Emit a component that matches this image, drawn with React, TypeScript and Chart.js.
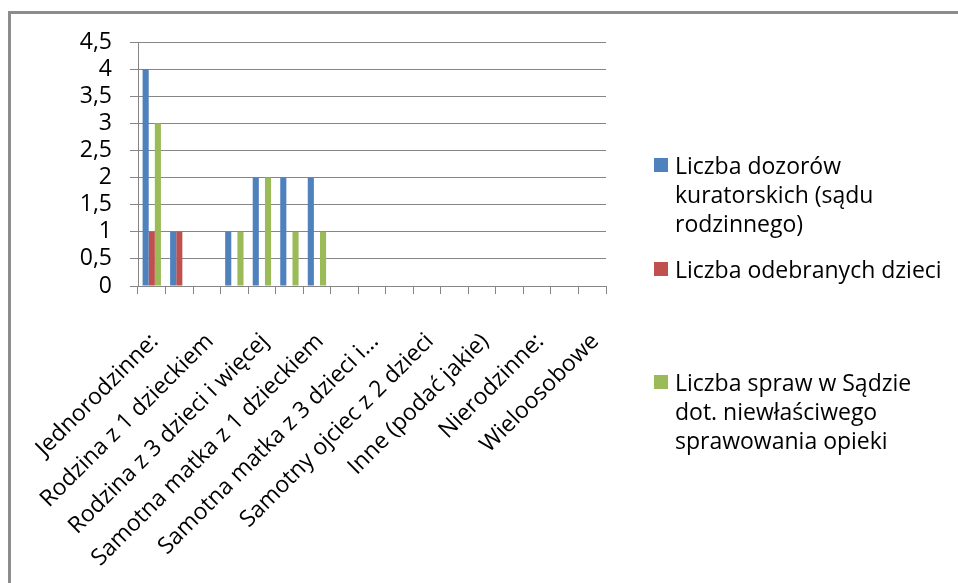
import React, { useEffect, useRef } from 'react';
import { Chart, registerables } from 'chart.js';

Chart.register(...registerables);

const CATEGORIES = [
  'Jednorodzinne:',
  'Małżeństwo bez dzieci',
  'Rodzina z 1 dzieckiem',
  'Rodzina z 2 dzieci',
  'Rodzina z 3 dzieci i więcej',
  'Samotni rodzice:',
  'Samotna matka z 1 dzieckiem',
  'Samotna matka z 2 dzieci',
  'Samotna matka z 3 dzieci i...',
  'Samotny ojciec z 1 dzieckiem',
  'Samotny ojciec z 2 dzieci',
  'Samotny ojciec z 3 dzieci i więcej',
  'Inne (podać jakie)',
  'Wielorodzinne',
  'Nierodzinne:',
  'Jednoosobowe',
  'Wieloosobowe',
];

const DOZORY = [4, 1, 0, 1, 2, 2, 2, 0, 0, 0, 0, 0, 0, 0, 0, 0, 0];
const ODEBRANE = [1, 1, 0, 0, 0, 0, 0, 0, 0, 0, 0, 0, 0, 0, 0, 0, 0];
const SPRAWY = [3, 0, 0, 1, 2, 1, 1, 0, 0, 0, 0, 0, 0, 0, 0, 0, 0];

const SERIES_NAMES = [
  'Liczba dozorów kuratorskich (sądu rodzinnego)',
  'Liczba odebranych dzieci',
  'Liczba spraw w Sądzie dot. niewłaściwego sprawowania opieki',
];
const LEGEND_LINES = [
  ['Liczba dozorów', 'kuratorskich (sądu', 'rodzinnego)'],
  ['Liczba odebranych dzieci'],
  ['Liczba spraw w Sądzie', 'dot. niewłaściwego', 'sprawowania opieki'],
];
const COLORS = ['#4F81BD', '#C0504D', '#9BBB59'];
const Y_MAX = 4.5;
const Y_STEP = 0.5;

const FONT = '"Open Sans", "Noto Sans", sans-serif';
const FONT_SIZE = 23;
const GRID = '#868686';
const LEGEND_TOPS = [151, 255, 368];

export default function App() {
  const ref = useRef<HTMLCanvasElement | null>(null);

  useEffect(() => {
    if (!ref.current) return;
    const chart = new Chart(ref.current, {
      type: 'bar',
      data: {
        labels: CATEGORIES,
        datasets: [DOZORY, ODEBRANE, SPRAWY].map((d, i) => ({
          label: SERIES_NAMES[i],
          data: d,
          backgroundColor: COLORS[i],
          borderWidth: 0,
          barPercentage: 1,
          categoryPercentage: 0.667,
        })),
      },
      options: {
        animation: false,
        responsive: false,
        maintainAspectRatio: false,
        layout: { padding: { left: 0, top: 42, right: 352, bottom: 0 } },
        plugins: { legend: { display: false }, tooltip: { enabled: true } },
        scales: {
          x: {
            grid: { display: true, drawOnChartArea: false, drawTicks: true, tickLength: 8, color: GRID, lineWidth: 1 },
            border: { color: GRID, width: 1 },
            ticks: {
              autoSkip: false,
              minRotation: 45,
              maxRotation: 45,
              padding: 34,
              labelOffset: 3,
              color: '#000',
              font: { family: FONT, size: FONT_SIZE },
              callback: (_v: any, i: number) => (i % 2 === 0 ? CATEGORIES[i] : ''),
            },
            afterFit: (s: any) => {
              s.height = 583 - 286;
              s.paddingLeft = 0;
              s.paddingRight = 0;
            },
          },
          y: {
            min: 0,
            max: Y_MAX,
            grid: { color: GRID, lineWidth: 1, tickLength: 8, drawTicks: true },
            border: { color: GRID, width: 1 },
            ticks: {
              stepSize: Y_STEP,
              autoSkip: false,
              padding: 18,
              color: '#000',
              font: { family: FONT, size: FONT_SIZE },
              callback: (v: any) => String(v).replace('.', ','),
            },
            afterFit: (s: any) => { s.width = 138; },
          },
        },
      },
    });
    return () => chart.destroy();
  }, []);

  return (
    <div style={{ position: 'fixed', left: 0, top: 0, width: 958, height: 583, background: '#fff', overflow: 'hidden' }}>
      <div style={{ position: 'absolute', left: 8, top: 11, width: 980, height: 3, background: '#8c8c8c' }} />
      <div style={{ position: 'absolute', left: 8, top: 11, width: 3, height: 600, background: '#8c8c8c' }} />
      <canvas ref={ref} width={958} height={583} style={{ position: 'absolute', left: 0, top: 0, width: 958, height: 583 }} />
      {LEGEND_LINES.map((lines, i) => (
        <div key={i} style={{ position: 'absolute', left: 654, top: LEGEND_TOPS[i], fontFamily: FONT, fontSize: FONT_SIZE, lineHeight: '29px', color: '#000' }}>
          <span style={{ position: 'absolute', left: 0, top: 7, width: 14, height: 14, background: COLORS[i] }} />
          <div style={{ marginLeft: 21, whiteSpace: 'nowrap' }}>
            {lines.map((l, j) => (<div key={j}>{l}</div>))}
          </div>
        </div>
      ))}
    </div>
  );
}
